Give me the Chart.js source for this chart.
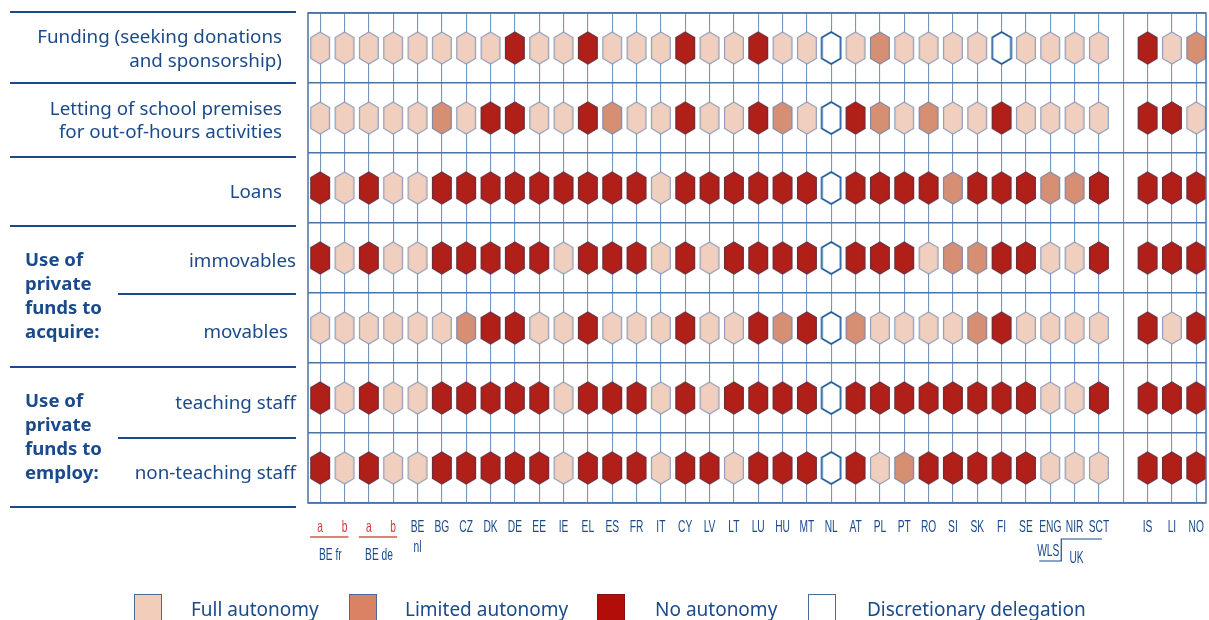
<!DOCTYPE html>
<html>
<head>
<meta charset="utf-8">
<script src="https://cdn.jsdelivr.net/npm/chart.js@4"></script>
<style>
  html, body { margin: 0; padding: 0; background: #fff; overflow: hidden; }
  canvas { display: block; }
</style>
</head>
<body>
<canvas id="chart" width="1209" height="620"></canvas>
<script>
// Column labels (first line) and their slot on the x scale (gap before IS/LI/NO)
const countries = ['a', 'b', 'a', 'b', 'BE', 'BG', 'CZ', 'DK', 'DE', 'EE', 'IE', 'EL', 'ES', 'FR', 'IT', 'CY',
  'LV', 'LT', 'LU', 'HU', 'MT', 'NL', 'AT', 'PL', 'PT', 'RO', 'SI', 'SK', 'FI', 'SE', 'ENG', 'NIR', 'SCT',
  'IS', 'LI', 'NO'];
const slots = [0, 1, 2, 3, 4, 5, 6, 7, 8, 9, 10, 11, 12, 13, 14, 15, 16, 17, 18, 19, 20, 21, 22, 23, 24, 25,
  26, 27, 28, 29, 30, 31, 32, 34, 35, 36];

// F = full autonomy, L = limited, N = no autonomy, D = discretionary delegation
const funding     = ['F','F','F','F','F','F','F','F','N','F','F','N','F','F','F','N','F','F','N','F','F','D','F','L','F','F','F','F','D','F','F','F','F','N','F','L'];
const letting     = ['F','F','F','F','F','L','F','N','N','F','F','N','L','F','F','N','F','F','N','L','F','D','N','L','F','L','F','F','N','F','F','F','F','N','N','F'];
const loans       = ['N','F','N','F','F','N','N','N','N','N','N','N','N','N','F','N','N','N','N','N','N','D','N','N','N','N','L','N','N','N','L','L','N','N','N','N'];
const immovables  = ['N','F','N','F','F','N','N','N','N','N','F','N','N','N','F','N','F','N','N','N','N','D','N','N','N','F','L','L','N','N','F','F','N','N','N','N'];
const movables    = ['F','F','F','F','F','F','L','N','N','F','F','N','F','F','F','N','F','F','N','L','N','D','L','F','F','F','F','L','N','F','F','F','F','N','F','N'];
const teaching    = ['N','F','N','F','F','N','N','N','N','N','F','N','N','N','F','N','F','N','N','N','N','D','N','N','N','N','N','N','N','N','F','F','N','N','N','N'];
const nonTeaching = ['N','F','N','F','F','N','N','N','N','N','F','N','N','N','F','N','N','F','N','N','N','D','N','F','L','N','N','N','N','N','F','F','F','N','N','N'];

const rows = [funding, letting, loans, immovables, movables, teaching, nonTeaching];

const categories = ['F', 'L', 'N', 'D'];
const categoryNames = ['Full autonomy', 'Limited autonomy', 'No autonomy', 'Discretionary delegation'];

const fills = { F: '#f0cfbe', L: '#d78f74', N: '#b01f18', D: '#ffffff' };
const strokes = { F: '#8f9fbc', L: '#7f8aa8', N: '#6a3040', D: '#1f5a9c' };
const ink = '#1b4a8a';
const gridCol = '#7395bf';

// hexagon marker drawn once per category
function makeHex(cat) {
  const c = document.createElement('canvas');
  c.width = 22; c.height = 36;
  const g = c.getContext('2d');
  const cx = 11, cy = 18, hw = 9.4, hh = 16, roof = 5.5;
  g.beginPath();
  g.moveTo(cx, cy - hh);
  g.lineTo(cx + hw, cy - hh + roof);
  g.lineTo(cx + hw, cy + hh - roof);
  g.lineTo(cx, cy + hh);
  g.lineTo(cx - hw, cy + hh - roof);
  g.lineTo(cx - hw, cy - hh + roof);
  g.closePath();
  g.fillStyle = fills[cat];
  g.fill();
  g.lineWidth = cat === 'D' ? 1.8 : 1.2;
  g.strokeStyle = strokes[cat];
  g.stroke();
  return c;
}

const datasets = categories.map((cat, k) => {
  const pts = [];
  rows.forEach((row, r) => {
    row.forEach((v, i) => { if (v === cat) pts.push({ x: slots[i], y: r }); });
  });
  return {
    label: categoryNames[k],
    data: pts,
    pointStyle: makeHex(cat),
    pointRadius: 10,
    pointHoverRadius: 10,
    backgroundColor: fills[cat],
    borderColor: strokes[cat]
  };
});

const decor = {
  id: 'decor',
  afterDraw(chart) {
    const ctx = chart.ctx;
    const a = chart.chartArea;
    const xs = chart.scales.x;
    ctx.save();

    // frame
    ctx.strokeStyle = '#4a73a8';
    ctx.lineWidth = 1.5;
    ctx.strokeRect(a.left, a.top, a.right - a.left, a.bottom - a.top);

    // left panel rules
    ctx.strokeStyle = '#1b4a8a';
    ctx.lineWidth = 2;
    [[10, 12], [10, 83], [10, 157], [10, 226], [118, 294], [10, 367], [118, 438], [10, 507]].forEach(([x0, y]) => {
      ctx.beginPath(); ctx.moveTo(x0, y); ctx.lineTo(296, y); ctx.stroke();
    });

    // row labels
    ctx.fillStyle = ink;
    ctx.font = '18.8px "Noto Sans", sans-serif';
    ctx.textAlign = 'right';
    ctx.textBaseline = 'alphabetic';
    [['Funding (seeking donations', 282, 43], ['and sponsorship)', 282, 67],
     ['Letting of school premises', 282, 115], ['for out-of-hours activities', 282, 138],
     ['Loans', 282, 198], ['immovables', 296, 267], ['movables', 288, 338],
     ['teaching staff', 296, 409], ['non-teaching staff', 296, 479]].forEach(([t, x, y]) => ctx.fillText(t, x, y));

    ctx.textAlign = 'left';
    ctx.font = 'bold 18.6px "Noto Sans", sans-serif';
    [['Use of', 266], ['private', 290], ['funds to', 314], ['acquire:', 338],
     ['Use of', 407], ['private', 431], ['funds to', 455], ['employ:', 479]].forEach(([t, y]) => ctx.fillText(t, 25, y));

    // condensed tick labels
    const narrow = (t, x, y, col) => {
      ctx.save();
      ctx.translate(x, y);
      ctx.scale(0.62, 1);
      ctx.fillStyle = col;
      ctx.font = '16.5px "Liberation Sans", sans-serif';
      ctx.textAlign = 'center';
      ctx.fillText(t, 0, 0);
      ctx.restore();
    };
    countries.forEach((t, i) => {
      const x = xs.getPixelForValue(slots[i]);
      narrow(t, x, 532, i < 4 ? '#c9413b' : ink);
    });
    narrow('nl', xs.getPixelForValue(4), 552, ink);
    narrow('WLS', xs.getPixelForValue(30) - 2, 556, ink);
    narrow('BE fr', (xs.getPixelForValue(0) + xs.getPixelForValue(1)) / 2 - 2, 560, ink);
    narrow('BE de', (xs.getPixelForValue(2) + xs.getPixelForValue(3)) / 2 - 2, 560, ink);
    narrow('UK', xs.getPixelForValue(31) + 2, 563, ink);

    ctx.lineWidth = 1.5;
    ctx.strokeStyle = '#d0574f';
    [[0, 1], [2, 3]].forEach(([i, j]) => {
      ctx.beginPath();
      ctx.moveTo(xs.getPixelForValue(i) - 10, 537);
      ctx.lineTo(xs.getPixelForValue(j) + 4, 537);
      ctx.stroke();
    });
    ctx.strokeStyle = ink;
    ctx.lineWidth = 1.2;
    ctx.beginPath();
    const e = xs.getPixelForValue(30), s = xs.getPixelForValue(32);
    ctx.moveTo(e - 11, 561); ctx.lineTo(e + 11, 561); ctx.lineTo(e + 11, 539); ctx.lineTo(s + 3, 539);
    ctx.stroke();

    // legend
    const keys = [[134, 191], [349, 405], [597, 655], [808, 867]];
    ctx.font = '19px "Noto Sans", sans-serif';
    ctx.textAlign = 'left';
    categories.forEach((cat, k) => {
      const [bx, tx] = keys[k];
      ctx.fillStyle = { F: '#f2cdb9', L: '#dc8264', N: '#b20d08', D: '#ffffff' }[cat];
      ctx.fillRect(bx, 594, 28, 28);
      ctx.lineWidth = 1;
      ctx.strokeStyle = cat === 'N' ? '#8a1010' : '#4a6a9a';
      ctx.strokeRect(bx + 0.5, 594.5, 27, 28);
      ctx.fillStyle = ink;
      ctx.fillText(categoryNames[k], tx, 616);
    });
    ctx.restore();
  }
};

new Chart(document.getElementById('chart'), {
  type: 'scatter',
  data: { datasets },
  options: {
    responsive: false,
    animation: false,
    layout: { autoPadding: false, padding: { left: 308, right: 3, top: 13, bottom: 117 } },
    plugins: { legend: { display: false }, tooltip: { enabled: false } },
    scales: {
      x: {
        type: 'linear', min: -0.5, max: 36.4,
        afterBuildTicks: s => { s.ticks = slots.concat([33]).map(v => ({ value: v })); },
        ticks: { display: false },
        grid: { color: gridCol, lineWidth: 1.1, drawTicks: false },
        border: { display: false }
      },
      y: {
        type: 'linear', min: -0.5, max: 6.5, reverse: true,
        afterBuildTicks: s => { s.ticks = [-0.5, 0.5, 1.5, 2.5, 3.5, 4.5, 5.5, 6.5].map(v => ({ value: v })); },
        ticks: { display: false },
        grid: { color: '#4a73a8', lineWidth: 1.4, drawTicks: false },
        border: { display: false }
      }
    }
  },
  plugins: [decor]
});
</script>
</body>
</html>
